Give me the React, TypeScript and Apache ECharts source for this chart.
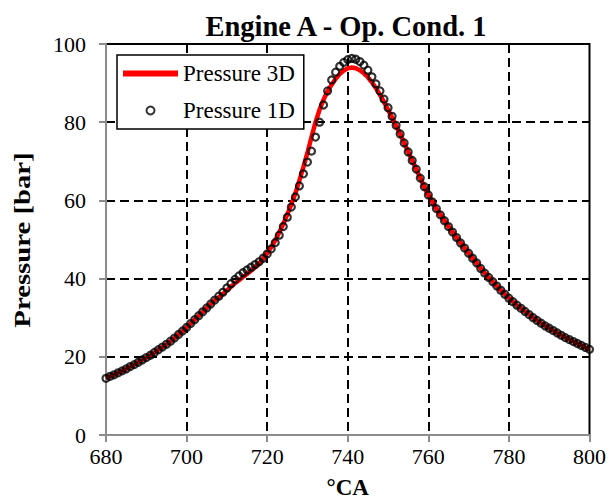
import React, { useEffect, useRef } from 'react';
import * as echarts from 'echarts';

const crankAngle = [
  680, 681, 682, 683, 684, 685, 686, 687, 688, 689,
  690, 691, 692, 693, 694, 695, 696, 697, 698, 699,
  700, 701, 702, 703, 704, 705, 706, 707, 708, 709,
  710, 711, 712, 713, 714, 715, 716, 717, 718, 719,
  720, 721, 722, 723, 724, 725, 726, 727, 728, 729,
  730, 731, 732, 733, 734, 735, 736, 737, 738, 739,
  740, 741, 742, 743, 744, 745, 746, 747, 748, 749,
  750, 751, 752, 753, 754, 755, 756, 757, 758, 759,
  760, 761, 762, 763, 764, 765, 766, 767, 768, 769,
  770, 771, 772, 773, 774, 775, 776, 777, 778, 779,
  780, 781, 782, 783, 784, 785, 786, 787, 788, 789,
  790, 791, 792, 793, 794, 795, 796, 797, 798, 799,
  800,
];

const pressure1D = [
  14.5, 15.0, 15.4, 15.9, 16.4, 16.9, 17.5, 18.0, 18.6, 19.2,
  19.8, 20.4, 21.1, 21.8, 22.5, 23.2, 24.0, 24.8, 25.7, 26.6,
  27.5, 28.5, 29.5, 30.5, 31.5, 32.5, 33.5, 34.5, 35.5, 36.5,
  37.6, 38.7, 39.8, 40.7, 41.5, 42.2, 42.9, 43.6, 44.3, 45.2,
  46.3, 47.6, 49.2, 51.1, 53.3, 55.7, 58.3, 60.9, 63.7, 66.8,
  69.8, 72.6, 76.2, 80.0, 84.4, 88.0, 90.8, 92.8, 94.3, 95.3,
  96.0, 96.3, 96.1, 95.5, 94.6, 93.3, 91.6, 89.8, 88.0, 85.9,
  83.7, 81.5, 79.2, 77.0, 74.7, 72.4, 70.2, 68.0, 65.7, 63.5,
  61.4, 59.6, 57.9, 56.3, 54.8, 53.3, 51.9, 50.5, 49.1, 47.8,
  46.5, 45.2, 44.0, 42.6, 41.4, 40.3, 39.2, 38.1, 37.0, 36.0,
  35.0, 34.1, 33.2, 32.4, 31.6, 30.8, 30.0, 29.3, 28.6, 27.9,
  27.3, 26.7, 26.1, 25.5, 24.9, 24.4, 23.9, 23.4, 22.9, 22.4,
  21.9,
];

const pressure3D = [
  14.5, 15.0, 15.4, 15.9, 16.4, 16.9, 17.5, 18.0, 18.6, 19.2,
  19.8, 20.4, 21.1, 21.8, 22.5, 23.2, 24.0, 24.8, 25.7, 26.6,
  27.5, 28.5, 29.5, 30.5, 31.5, 32.5, 33.5, 34.5, 35.2, 36.1,
  37.0, 37.9, 38.8, 39.6, 40.4, 41.2, 42.0, 42.9, 43.9, 45.1,
  46.5, 48.0, 49.8, 51.8, 54.0, 56.4, 59.0, 61.8, 65.1, 68.6,
  72.2, 76.2, 80.0, 83.2, 85.8, 87.9, 89.6, 91.1, 92.3, 93.2,
  93.8, 94.0, 93.8, 93.3, 92.5, 91.5, 90.2, 88.7, 87.0, 85.2,
  83.2, 81.2, 79.1, 77.0, 74.7, 72.4, 70.2, 68.0, 65.7, 63.5,
  61.4, 59.6, 57.9, 56.3, 54.8, 53.3, 51.9, 50.5, 49.1, 47.8,
  46.5, 45.2, 44.0, 42.6, 41.4, 40.3, 39.2, 38.1, 37.0, 36.0,
  35.0, 34.1, 33.2, 32.4, 31.6, 30.8, 30.0, 29.3, 28.6, 27.9,
  27.3, 26.7, 26.1, 25.5, 24.9, 24.4, 23.9, 23.4, 22.9, 22.4,
  21.9,
];

const TITLE = 'Engine A - Op. Cond. 1';
const X_NAME = '°CA';
const Y_NAME = 'Pressure [bar]';
const NAME_3D = 'Pressure 3D';
const NAME_1D = 'Pressure 1D';

export default function App() {
  const ref = useRef<HTMLDivElement>(null);

  useEffect(() => {
    if (!ref.current) return;
    const chart = echarts.init(ref.current, null, { renderer: 'svg' });
    const font = 'Liberation Serif';
    const grayAxis = '#8c8c8c';

    chart.setOption({
      animation: false,
      backgroundColor: '#ffffff',
      title: {
        text: TITLE,
        left: 341,
        top: 7,
        textAlign: 'center',
        textStyle: { fontFamily: font, fontSize: 28.5, fontWeight: 'bold', color: '#000' },
      },
      grid: {
        left: 106,
        right: 19,
        top: 44,
        bottom: 69,
        show: true,
        borderColor: '#000',
        borderWidth: 2,
        backgroundColor: 'transparent',
      },
      legend: {
        orient: 'vertical',
        left: 117,
        top: 55,
        padding: [7, 9, 7, 6],
        itemGap: 14,
        itemWidth: 55,
        itemHeight: 8,
        borderColor: '#000',
        borderWidth: 1.5,
        backgroundColor: '#fff',
        textStyle: { fontFamily: font, fontSize: 23, color: '#000' },
        data: [
          { name: NAME_3D, icon: 'path://M0,0 L55,0 L55,6 L0,6 Z', itemStyle: { color: '#ff0000' } },
          { name: NAME_1D },
        ],
      },
      graphic: [
        {
          type: 'text',
          x: 22,
          y: 240,
          rotation: Math.PI / 2,
          scaleX: 1.25,
          style: {
            text: Y_NAME,
            fontFamily: font,
            fontSize: 23,
            fontWeight: 'bold',
            fill: '#000',
            align: 'center',
            verticalAlign: 'middle',
          },
        },
      ],
      xAxis: {
        type: 'value',
        min: 680,
        max: 800,
        interval: 20,
        name: X_NAME,
        nameLocation: 'middle',
        nameGap: 41,
        nameTextStyle: { fontFamily: font, fontSize: 23, fontWeight: 'bold', color: '#000' },
        axisLine: { show: true, lineStyle: { color: grayAxis, width: 2 } },
        axisTick: { show: true, inside: false, length: 7, lineStyle: { color: grayAxis, width: 2 } },
        axisLabel: { fontFamily: font, fontSize: 22, color: '#000', margin: 10 },
        splitLine: {
          show: true,
          showMinLine: false,
          showMaxLine: false,
          lineStyle: { type: [9, 5], color: '#000', width: 2 },
        },
      },
      yAxis: {
        type: 'value',
        min: 0,
        max: 100,
        interval: 20,
        axisLine: { show: true, lineStyle: { color: grayAxis, width: 2 } },
        axisTick: { show: true, inside: false, length: 7, lineStyle: { color: grayAxis, width: 2 } },
        axisLabel: { fontFamily: font, fontSize: 22, color: '#000', margin: 20 },
        splitLine: {
          show: true,
          showMinLine: false,
          showMaxLine: false,
          lineStyle: { type: [9, 5], color: '#000', width: 2 },
        },
      },
      series: [
        {
          name: NAME_3D,
          type: 'line',
          data: crankAngle.map((x, i) => [x, pressure3D[i]]),
          symbol: 'none',
          showSymbol: false,
          lineStyle: { color: '#ff0000', width: 4.5 },
          itemStyle: { color: '#ff0000' },
          z: 2,
        },
        {
          name: NAME_1D,
          type: 'scatter',
          data: crankAngle.map((x, i) => [x, pressure1D[i]]),
          symbol: 'circle',
          symbolSize: 7,
          itemStyle: { color: 'rgba(0,0,0,0)', borderColor: '#000', borderWidth: 2.2 },
          z: 3,
        },
      ],
    });

    return () => chart.dispose();
  }, []);

  return (
    <div
      ref={ref}
      style={{ position: 'fixed', left: 0, top: 0, width: 609, height: 504 }}
    />
  );
}
